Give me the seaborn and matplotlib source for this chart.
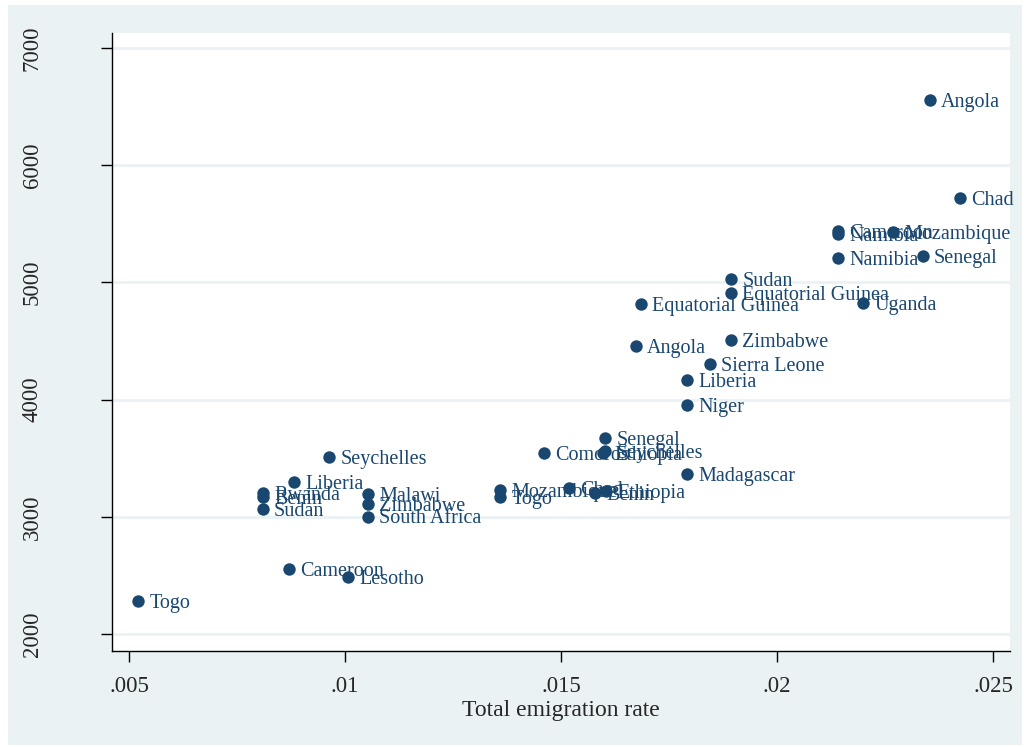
import matplotlib
matplotlib.use("Agg")
import matplotlib.pyplot as plt
import seaborn as sns
import pandas as pd
from matplotlib.patches import Rectangle

# datos
paises = ["Angola", "Chad", "Cameroon", "Namibia", "Mozambique", "Namibia", "Senegal",
          "Sudan", "Equatorial Guinea", "Equatorial Guinea", "Uganda", "Zimbabwe", "Angola",
          "Sierra Leone", "Liberia", "Niger", "Senegal", "Seychelles", "Ethiopia", "Comoros",
          "Madagascar", "Mozambique", "Togo", "Chad", "Benin", "Ethiopia", "Seychelles",
          "Liberia", "Rwanda", "Benin", "Sudan", "Malawi", "Zimbabwe", "South Africa",
          "Cameroon", "Lesotho", "Togo"]
tasa = [.02354, .02424, .02141, .02141, .02269, .02141, .02338,
        .01894, .01894, .01685, .02199, .01894, .01674,
        .01845, .01792, .01792, .01602, .01602, .01597, .01461,
        .01792, .01359, .01359, .01519, .01579, .01604, .00963,
        .00882, .0081, .0081, .0081, .01053, .01053, .01053,
        .0087, .01007, .00521]
valor = [6556, 5720, 5439, 5413, 5430, 5208, 5225,
         5029, 4910, 4816, 4824, 4509, 4457,
         4304, 4167, 3954, 3672, 3561, 3544, 3544,
         3365, 3229, 3169, 3246, 3203, 3220, 3510,
         3297, 3203, 3169, 3067, 3195, 3109, 3000,
         2555, 2486, 2282]

df = pd.DataFrame({"pais": paises, "tasa": tasa, "valor": valor})

azul = "#1a476f"
fondo = "#eaf2f3"

sns.set_style("white")
plt.rcParams['font.family'] = ['Liberation Serif', 'DejaVu Serif']

fig = plt.figure(figsize=(10.24, 7.47), dpi=100, facecolor="white")
fig.patches.append(Rectangle((8/1024, 2/747), 1014/1024, 740/747, transform=fig.transFigure,
                             facecolor=fondo, edgecolor="none", zorder=-10))
ax = fig.add_axes([112/1024, 1 - 651/747, 898/1024, 618/747])
ax.set_facecolor("white")

sns.scatterplot(data=df, x="tasa", y="valor", ax=ax, color=azul, s=80,
                edgecolor=azul, linewidth=0, zorder=3)

# etiquetas a la derecha de cada punto
for _, r in df.iterrows():
    ax.annotate(r["pais"], (r["tasa"], r["valor"]), xytext=(8, -1.5), textcoords="offset points",
                va="center", ha="left", fontsize=14.5, color=azul, zorder=4)

ax.set_xlim(.004606, .025394)
ax.set_ylim(1855, 7128)
ax.set_xticks([.005, .01, .015, .02, .025])
ax.set_xticklabels([".005", ".01", ".015", ".02", ".025"])
ax.set_yticks([2000, 3000, 4000, 5000, 6000, 7000])
ax.set_yticklabels(["2000", "3000", "4000", "5000", "6000", "7000"], rotation=90, va="center")
ax.tick_params(axis="both", direction="out", length=8, width=1, labelsize=16.5, color="black",
               left=True, bottom=True)
ax.tick_params(axis="y", pad=42)
ax.tick_params(axis="x", pad=10)
ax.grid(axis="y", color=fondo, linewidth=2)
ax.set_axisbelow(True)
for s in ["top", "right"]:
    ax.spines[s].set_visible(False)
for s in ["left", "bottom"]:
    ax.spines[s].set_color("black")
    ax.spines[s].set_linewidth(1)
ax.set_xlabel("Total emigration rate", fontsize=17, labelpad=2)
ax.set_ylabel("")

fig.savefig("out.png", dpi=100, facecolor="white")
